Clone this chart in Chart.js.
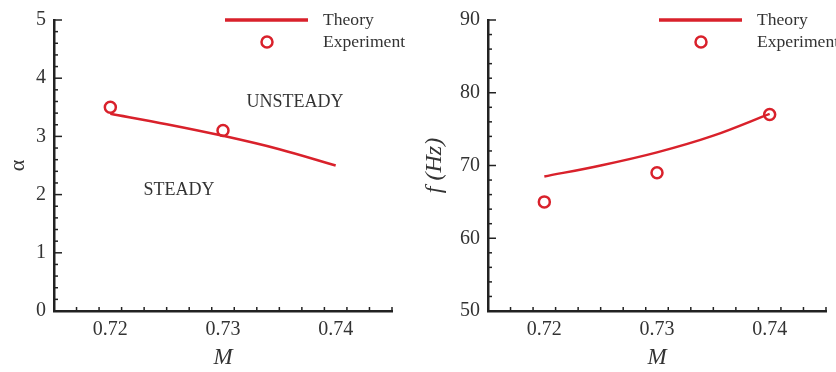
<!DOCTYPE html>
<html>
<head>
<meta charset="utf-8">
<script src="https://cdn.jsdelivr.net/npm/chart.js@4.4.1/dist/chart.umd.min.js"></script>
<style>
  html, body { margin: 0; padding: 0; background: #fff; }
  #wrap { position: relative; width: 836px; height: 372px; overflow: hidden; }
  canvas { position: absolute; top: 0; }
</style>
</head>
<body>
<div id="wrap">
  <canvas id="alphaChart" width="418" height="372" style="left:0"></canvas>
  <canvas id="freqChart" width="418" height="372" style="left:418px"></canvas>
</div>
<script>
// Données
const machTheory = [0.72, 0.725, 0.73, 0.735, 0.74];
const alphaTheory = [3.39, 3.21, 3.01, 2.78, 2.5];
const freqTheory = [68.5, 70.0, 71.8, 74.1, 77.1];

const machExp = [0.72, 0.73];
const alphaExp = [3.5, 3.1];
const machExpF = [0.72, 0.73, 0.74];
const freqExp = [65, 69, 77];

const machTicks = [0.72, 0.73, 0.74];
const alphaTicks = [0, 1, 2, 3, 4, 5];
const freqTicks = [50, 60, 70, 80, 90];

const RED = '#d9212b';
const AXIS = '#222';
const TEXT = '#333';
const SERIF = "'Liberation Serif', 'DejaVu Serif', serif";

// ticks vers l'intérieur + légende + annotations
const decorPlugin = {
  id: 'decor',
  afterDraw(chart, args, opts) {
    const ctx = chart.ctx;
    const area = chart.chartArea;
    const xs = chart.scales.x;
    const ys = chart.scales.y;
    ctx.save();
    ctx.strokeStyle = AXIS;
    ctx.lineWidth = 1.5;
    // ticks de l'axe x
    for (let v = xs.min; v <= xs.max + 1e-9; v += opts.xMinor) {
      const px = xs.getPixelForValue(v);
      const major = machTicks.some(t => Math.abs(t - v) < 1e-6);
      const len = major ? 8 : 4;
      ctx.beginPath();
      ctx.moveTo(px, area.bottom);
      ctx.lineTo(px, area.bottom - len);
      ctx.stroke();
    }
    // ticks de l'axe y
    for (let v = ys.min; v <= ys.max + 1e-9; v += opts.yMinor) {
      const py = ys.getPixelForValue(v);
      const major = opts.yTicks.some(t => Math.abs(t - v) < 1e-6);
      const len = major ? 8 : 4;
      ctx.beginPath();
      ctx.moveTo(area.left, py);
      ctx.lineTo(area.left + len, py);
      ctx.stroke();
    }
    // légende
    const r = area.right;
    ctx.strokeStyle = RED;
    ctx.lineWidth = 3.5;
    ctx.beginPath();
    ctx.moveTo(r - 167, 20);
    ctx.lineTo(r - 84, 20);
    ctx.stroke();
    ctx.lineWidth = 2.5;
    ctx.beginPath();
    ctx.arc(r - 125, 42, 5.5, 0, Math.PI * 2);
    ctx.stroke();
    ctx.fillStyle = TEXT;
    ctx.font = '17.6px ' + SERIF;
    ctx.textAlign = 'left';
    ctx.textBaseline = 'middle';
    ctx.fillText('Theory', r - 69, 20);
    ctx.fillText('Experiment', r - 69, 42);
    // annotations
    ctx.font = '18px ' + SERIF;
    ctx.textAlign = 'center';
    (opts.notes || []).forEach(n => {
      ctx.fillText(n.text, xs.getPixelForValue(n.x), ys.getPixelForValue(n.y));
    });
    ctx.restore();
  }
};

function makeChart(id, yTicks, yMinor, yTitle, theory, expX, expY, notes, padRight, yWidth) {
  const ctx = document.getElementById(id).getContext('2d');
  const isAlpha = yTitle === 'α';
  return new Chart(ctx, {
    type: 'scatter',
    data: {
      datasets: [
        {
          label: 'Theory',
          data: machTheory.map((m, i) => ({ x: m, y: theory[i] })),
          showLine: true,
          borderColor: RED,
          borderWidth: 2.5,
          pointRadius: 0,
          tension: 0.4,
          cubicInterpolationMode: 'monotone',
          fill: false
        },
        {
          label: 'Experiment',
          data: expX.map((m, i) => ({ x: m, y: expY[i] })),
          showLine: false,
          pointStyle: 'circle',
          pointRadius: 5.5,
          pointBorderWidth: 2.5,
          borderColor: RED,
          backgroundColor: 'rgba(0,0,0,0)'
        }
      ]
    },
    options: {
      responsive: false,
      animation: false,
      clip: false,
      layout: { padding: { top: 16, right: padRight, bottom: 0, left: 0 } },
      plugins: {
        legend: { display: false },
        tooltip: { enabled: false },
        decor: { xMinor: 0.002, yMinor: yMinor, yTicks: yTicks, notes: notes }
      },
      scales: {
        x: {
          type: 'linear',
          min: 0.715,
          max: 0.745,
          afterBuildTicks: s => { s.ticks = machTicks.map(v => ({ value: v })); },
          afterFit: s => { s.height = 61; },
          grid: { display: false, drawTicks: false },
          border: { display: true, color: AXIS, width: 2.5 },
          ticks: {
            padding: 7,
            color: TEXT,
            font: { family: SERIF, size: 20 },
            callback: v => v.toFixed(2)
          },
          title: {
            display: true,
            text: 'M',
            color: TEXT,
            padding: { top: 0, bottom: 0 },
            font: { family: SERIF, size: 23, style: 'italic' }
          }
        },
        y: {
          type: 'linear',
          min: yTicks[0],
          max: yTicks[yTicks.length - 1],
          afterBuildTicks: s => { s.ticks = yTicks.map(v => ({ value: v })); },
          afterFit: s => { s.width = yWidth; },
          grid: { display: false, drawTicks: false },
          border: { display: true, color: AXIS, width: 2.5 },
          ticks: {
            padding: 8,
            color: TEXT,
            font: { family: SERIF, size: 20 },
            callback: v => String(v)
          },
          title: {
            display: true,
            text: yTitle,
            color: TEXT,
            padding: { top: isAlpha ? 5 : 2, bottom: 0 },
            font: { family: SERIF, size: isAlpha ? 22 : 24, style: isAlpha ? 'normal' : 'italic' }
          }
        }
      }
    },
    plugins: [decorPlugin]
  });
}

makeChart('alphaChart', alphaTicks, 0.2, 'α', alphaTheory, machExp, alphaExp,
  [{ text: 'UNSTEADY', x: 0.7364, y: 3.58 }, { text: 'STEADY', x: 0.7261, y: 2.07 }], 26, 54);

makeChart('freqChart', freqTicks, 2, 'f (Hz)', freqTheory, machExpF, freqExp, [], 10, 70);
</script>
</body>
</html>
